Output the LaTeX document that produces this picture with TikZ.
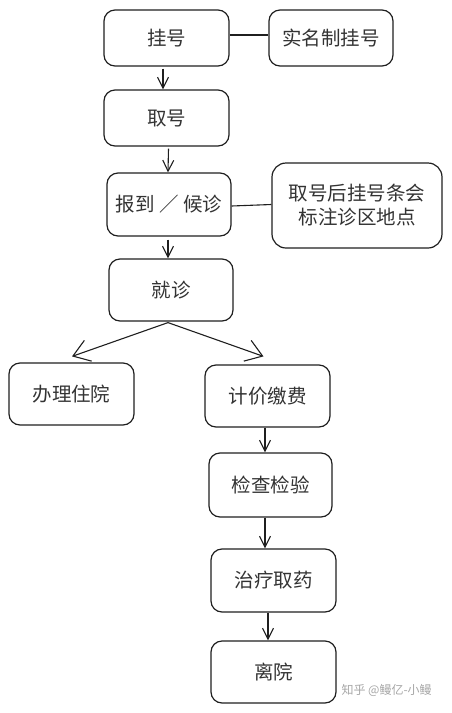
\documentclass[tikz,border=0pt]{standalone}
\usepackage{fontspec}
\setmainfont{Noto Sans CJK SC}
\usetikzlibrary{arrows.meta}
\begin{document}
\begin{tikzpicture}[x=1pt,y=-1pt,
  box/.style={draw=black!88,line width=1.2pt,rounded corners=11pt,minimum width=125pt,minimum height=62pt,inner sep=0pt,text=black!80,font=\fontsize{19.5}{24}\selectfont,align=center},
  ln/.style={draw=black!88,line width=1.1pt},
  arr/.style={ln,-{Straight Barb[length=11pt,width=11pt,line width=1.1pt]}},
  darr/.style={ln,-{Straight Barb[length=16pt,width=22pt,line width=1.1pt]}}]
\useasboundingbox (0,0) rectangle (451,713);
\node[box,minimum height=56pt] (gh) at (166.5,38) {挂号};
\node[box,minimum width=124pt,minimum height=56pt] (smz) at (331,38) {实名制挂号};
\node[box,minimum height=56pt] (qh) at (166.5,118) {取号};
\node[box,minimum width=124pt,minimum height=63pt] (bd) at (169,204.5) {报到 ／ 候诊};
\node[box,minimum width=170pt,minimum height=85pt,rounded corners=14pt] (note) at (357,205.5) {取号后挂号条会\\标注诊区地点};
\node[box,minimum width=124pt] (jz) at (171,290) {就诊};
\node[box] (zy) at (71.5,394) {办理住院};
\node[box] (jf) at (267.5,396) {计价缴费};
\node[box,minimum width=123pt,minimum height=64pt] (jc) at (270.5,485) {检查检验};
\node[box,minimum height=63pt] (zl) at (273.5,580.5) {治疗取药};
\node[box] (ly) at (273.5,672) {离院};
\node[text=black!35,font=\fontsize{12}{14}\selectfont,anchor=west] (wm) at (338,690) {知乎 @鳗亿-小鳗};
\draw[ln] ([yshift=3pt]gh.east) -- ([yshift=3pt]smz.west);
\draw[ln] ([yshift=-1.5pt]bd.east) -- (bd.east -| note.west);
\draw[arr] ([xshift=-3.5pt,yshift=-2pt]gh.south) -- ([xshift=-3.5pt]qh.north);
\draw[arr] ([xshift=2pt,yshift=-2pt]qh.south) -- ([xshift=-1pt]bd.north);
\draw[arr] ([xshift=-1pt,yshift=-3pt]bd.south) -- ([xshift=-3pt]jz.north);
\draw[darr] ([xshift=-3pt,yshift=-1pt]jz.south) -- ([xshift=0.5pt,yshift=6pt]zy.north);
\draw[darr] ([xshift=-3pt,yshift=-1pt]jz.south) -- ([xshift=-4pt,yshift=8pt]jf.north);
\draw[arr] ([xshift=-2.5pt]jf.south) -- ([xshift=-5.5pt]jc.north);
\draw[arr] ([xshift=-5.5pt]jc.south) -- ([xshift=-8.5pt]zl.north);
\draw[arr] ([xshift=-5.5pt]zl.south) -- ([xshift=-5.5pt]ly.north);
\end{tikzpicture}
\end{document}
